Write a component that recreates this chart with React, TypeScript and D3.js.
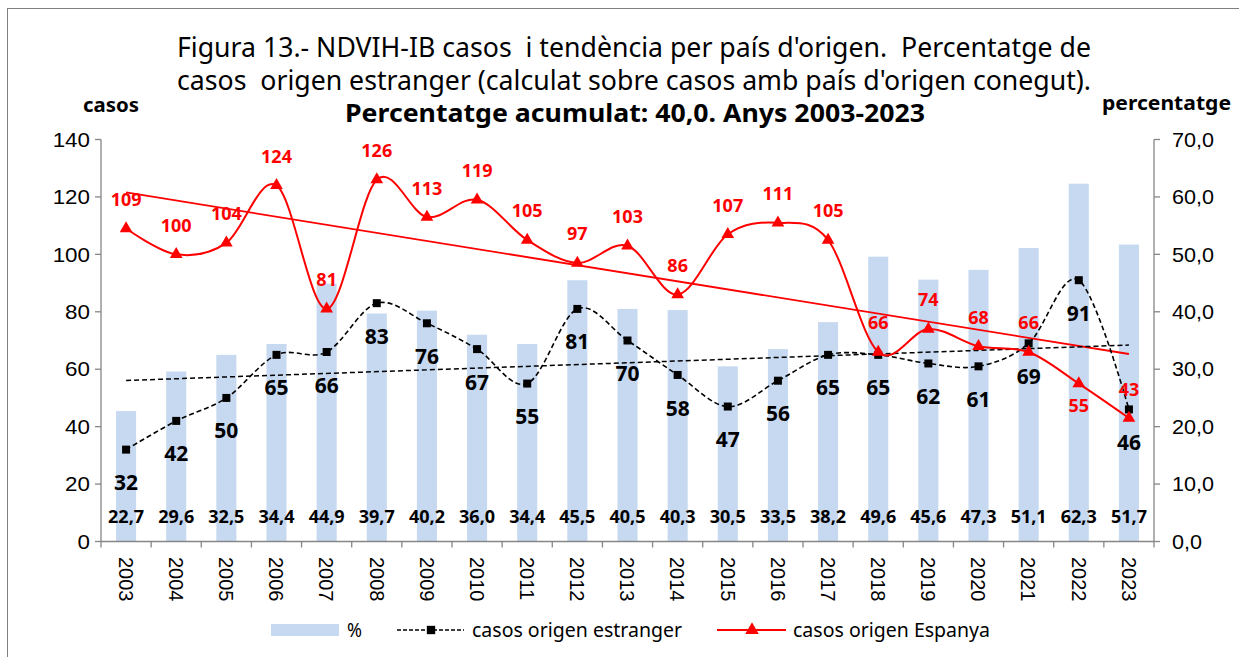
import React from "react";
import * as d3 from "d3";

const years = ["2003","2004","2005","2006","2007","2008","2009","2010","2011","2012","2013","2014","2015","2016","2017","2018","2019","2020","2021","2022","2023"];
const spain = [109,100,104,124,81,126,113,119,105,97,103,86,107,111,105,66,74,68,66,55,43];
const foreign = [32,42,50,65,66,83,76,67,55,81,70,58,47,56,65,65,62,61,69,91,46];
const percent = [22.7,29.6,32.5,34.4,44.9,39.7,40.2,36.0,34.4,45.5,40.5,40.3,30.5,33.5,38.2,49.6,45.6,47.3,51.1,62.3,51.7];
const leftTicks = [0,20,40,60,80,100,120,140];
const rightTicks = [0,10,20,30,40,50,60,70];
const titleLines = [
  "Figura 13.- NDVIH-IB casos  i tendència per país d'origen.  Percentatge de",
  "casos  origen estranger (calculat sobre casos amb país d'origen conegut).",
];
const subtitle = "Percentatge acumulat: 40,0. Anys 2003-2023";
const legendLabels = ["%", "casos origen estranger", "casos origen Espanya"];

const W = 1239, H = 657;
const X0 = 101, X1 = 1154, Y0 = 541.5, Y1 = 139.5;
const RED = "#ff0000";
const BAR = "#c6d9f1";
const AXIS = "#868686";

function fit(vals: number[]) {
  const n = vals.length;
  const xs = vals.map((_, i) => i);
  const mx = d3.mean(xs)!, my = d3.mean(vals)!;
  let num = 0, den = 0;
  xs.forEach((x, i) => { num += (x - mx) * (vals[i] - my); den += (x - mx) ** 2; });
  const b = num / den, a = my - b * mx;
  return [a, a + b * (n - 1)];
}

export default function App() {
  const x = d3.scaleBand<string>().domain(years).range([X0, X1]).padding(0);
  const cx = (y: string) => x(y)! + x.bandwidth() / 2;
  const yL = d3.scaleLinear().domain([0, 140]).range([Y0, Y1]);
  const yR = d3.scaleLinear().domain([0, 70]).range([Y0, Y1]);
  const barW = x.bandwidth() * 0.4;

  const curve = d3.curveCardinal.tension(0);
  const lineSpain = d3.line<number>().x((_, i) => cx(years[i])).y(v => yL(v)).curve(curve);
  const lineForeign = d3.line<number>().x((_, i) => cx(years[i])).y(v => yL(v)).curve(curve);

  const tS = fit(spain);
  const tF = fit(foreign);
  const xa = cx(years[0]), xb = cx(years[years.length - 1]);

  const tri = d3.symbol().type(d3.symbolTriangle).size(70)();
  const sq = d3.symbol().type(d3.symbolSquare).size(64)();
  const sqL = d3.symbol().type(d3.symbolSquare).size(70)();
  const triL = d3.symbol().type(d3.symbolTriangle).size(80)();

  const lblFont = "'Noto Sans', sans-serif";
  const axFont = "'Liberation Sans', Arial, sans-serif";
  const pre = { whiteSpace: "pre" as const };

  return (
    <svg width={W} height={H} style={{ position: "absolute", left: 0, top: 0, background: "#fff" }}>
      <rect x={7.5} y={8.5} width={W + 10} height={H + 10} fill="#fff" stroke="#808080" strokeWidth={1} />
      {/* title */}
      <text x={177} y={57} style={pre} textLength={914} lengthAdjust="spacingAndGlyphs" fontFamily={lblFont} fontSize={26.5} fill="#000">{titleLines[0]}</text>
      <text x={177} y={90} style={pre} textLength={914} lengthAdjust="spacingAndGlyphs" fontFamily={lblFont} fontSize={26.5} fill="#000">{titleLines[1]}</text>
      <text x={345} y={122} textLength={580} lengthAdjust="spacingAndGlyphs" fontFamily={lblFont} fontSize={25} fontWeight="bold" fill="#000">{subtitle}</text>
      <text x={83} y={112} textLength={56} lengthAdjust="spacingAndGlyphs" fontFamily={lblFont} fontSize={20} fontWeight="bold">casos</text>
      <text x={1102} y={110} textLength={129} lengthAdjust="spacingAndGlyphs" fontFamily={lblFont} fontSize={20} fontWeight="bold">percentatge</text>

      {/* bars */}
      {percent.map((v, i) => (
        <rect key={i} x={cx(years[i]) - barW / 2} y={yR(v)} width={barW} height={Y0 - yR(v)} fill={BAR} />
      ))}

      {/* axes */}
      <line x1={X0} x2={X0} y1={Y1} y2={Y0} stroke={AXIS} strokeWidth={1.3} />
      <line x1={X1} x2={X1} y1={Y1} y2={Y0} stroke={AXIS} strokeWidth={1.3} />
      <line x1={X0} x2={X1} y1={Y0} y2={Y0} stroke={AXIS} strokeWidth={1.3} />
      {leftTicks.map(t => (
        <g key={t}>
          <line x1={X0 - 6} x2={X0} y1={yL(t)} y2={yL(t)} stroke={AXIS} strokeWidth={1.3} />
          <text transform={`translate(90,${yL(t)}) scale(1.12,1)`} dy="0.36em" textAnchor="end" fontFamily={axFont} fontSize={20}>{t}</text>
        </g>
      ))}
      {rightTicks.map(t => (
        <g key={t}>
          <line x1={X1} x2={X1 + 6} y1={yR(t)} y2={yR(t)} stroke={AXIS} strokeWidth={1.3} />
          <text transform={`translate(1172,${yR(t)}) scale(1.08,1)`} dy="0.36em" textAnchor="start" fontFamily={axFont} fontSize={20}>{t.toFixed(1).replace(".", ",")}</text>
        </g>
      ))}
      {d3.range(years.length + 1).map(i => {
        const xx = X0 + i * x.bandwidth();
        return <line key={i} x1={xx} x2={xx} y1={Y0} y2={Y0 + 6} stroke={AXIS} strokeWidth={1.3} />;
      })}
      {years.map(y => (
        <text key={y} transform={`translate(${cx(y)},${557}) rotate(90)`} dy="0.36em" textAnchor="start" fontFamily={axFont} fontSize={20}>{y}</text>
      ))}

      {/* trend lines */}
      <line x1={xa} x2={xb} y1={yL(tS[0])} y2={yL(tS[1])} stroke={RED} strokeWidth={1.8} />
      <line x1={xa} x2={xb} y1={yL(tF[0])} y2={yL(tF[1])} stroke="#000" strokeWidth={1.5} strokeDasharray="5,3" />

      {/* lines */}
      <path d={lineForeign(foreign)!} fill="none" stroke="#000" strokeWidth={1.6} strokeDasharray="5,3" />
      <path d={lineSpain(spain)!} fill="none" stroke={RED} strokeWidth={2} />
      {foreign.map((v, i) => (
        <path key={i} d={sq!} transform={`translate(${cx(years[i])},${yL(v)})`} fill="#000" />
      ))}
      {spain.map((v, i) => (
        <path key={i} d={tri!} transform={`translate(${cx(years[i])},${yL(v)})`} fill={RED} />
      ))}

      {/* labels */}
      {percent.map((v, i) => (
        <text key={i} x={cx(years[i])} y={517} dy="0.36em" textAnchor="middle" fontFamily={lblFont} fontSize={18} fontWeight="bold">{v.toFixed(1).replace(".", ",")}</text>
      ))}
      {foreign.map((v, i) => (
        <text key={i} x={cx(years[i])} y={yL(v) + 33} dy="0.36em" textAnchor="middle" fontFamily={lblFont} fontSize={21} fontWeight="bold">{v}</text>
      ))}
      {spain.map((v, i) => (
        <text key={i} x={cx(years[i])} y={i === 19 ? yL(v) + 22 : yL(v) - 29} dy="0.36em" textAnchor="middle" fontFamily={lblFont} fontSize={18} fontWeight="bold" fill={RED}>{v}</text>
      ))}

      {/* legend */}
      <rect x={271} y={624} width={68} height={12} fill={BAR} />
      <text x={347} y={630} dy="0.36em" fontFamily={lblFont} fontSize={20} textLength={15} lengthAdjust="spacingAndGlyphs">{legendLabels[0]}</text>
      <line x1={397} x2={464} y1={630} y2={630} stroke="#000" strokeWidth={1.5} strokeDasharray="4,2" />
      <path d={sqL!} transform="translate(431,630)" fill="#000" />
      <text x={472} y={630} dy="0.36em" fontFamily={lblFont} fontSize={20} textLength={210} lengthAdjust="spacingAndGlyphs">{legendLabels[1]}</text>
      <line x1={717} x2={786} y1={630} y2={630} stroke={RED} strokeWidth={2} />
      <path d={triL!} transform="translate(752,630)" fill={RED} />
      <text x={793} y={630} dy="0.36em" fontFamily={lblFont} fontSize={20} textLength={197} lengthAdjust="spacingAndGlyphs">{legendLabels[2]}</text>
    </svg>
  );
}
